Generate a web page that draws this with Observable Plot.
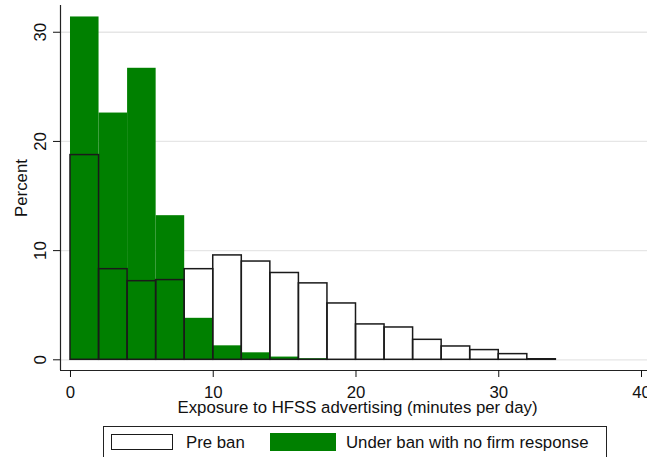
<!DOCTYPE html>
<html><head><meta charset="utf-8">
<script src="https://cdn.jsdelivr.net/npm/d3@7"></script>
<script src="https://cdn.jsdelivr.net/npm/@observablehq/plot@0.6"></script>
<style>
body{margin:0;background:#fff;font-family:"Liberation Sans",Arial,sans-serif;}
#wrap{position:relative;width:647px;height:457px;overflow:hidden;background:#fff;}
#legend{position:absolute;left:103px;top:426px;width:504px;height:34px;border:1px solid #222;box-sizing:border-box;font-size:16.8px;color:#111;}
#legend .sw{position:absolute;box-sizing:border-box;}
#legend .lab{position:absolute;white-space:nowrap;line-height:19px;}
</style>
</head><body>
<div id="wrap"></div>
<script>
// ---- data ----
const binStarts = [0,2,4,6,8,10,12,14,16,18,20,22,24,26,28,30,32];
const binWidth = 2;
const preBan   = [18.75, 8.3, 7.2, 7.3, 8.3, 9.56, 9.0, 7.95, 7.0, 5.16, 3.24, 2.96, 1.83, 1.22, 0.89, 0.52, 0.05];
const underBan = [31.4, 22.6, 26.7, 13.2, 3.8, 1.28, 0.64, 0.25, 0.1, 0, 0, 0, 0, 0, 0, 0, 0];
const seriesNames = ["Pre ban", "Under ban with no firm response"];
const xTicks = [0, 10, 20, 30, 40];
const yTicks = [0, 10, 20, 30];
const xTitle = "Exposure to HFSS advertising (minutes per day)";
const yTitle = "Percent";

const green = "#008000";
const xDomain = [-0.7, 40.42];
const yDomain = [-0.98, 32.45];
const fs = 16.8;

const bins = binStarts.map((s, i) => ({x1: s, x2: s + binWidth, pre: preBan[i], under: underBan[i]}));

const chart = Plot.plot({
  width: 647, height: 421,
  marginLeft: 60, marginRight: 0, marginTop: 5, marginBottom: 51,
  x: {domain: xDomain},
  y: {domain: yDomain},
  style: {fontFamily: '"Liberation Sans", Arial, sans-serif', fontSize: fs + "px", background: "white", color: "#111"},
  marks: [
    Plot.ruleY(yTicks, {stroke: "#e6e6e6", strokeWidth: 1.3}),
    Plot.rect(bins, {x1: "x1", x2: "x2", y1: d => 0, y2: "under", fill: green}),
    Plot.rect(bins, {x1: "x1", x2: "x2", y1: d => 0, y2: "pre", fill: "none", stroke: "#1a1a1a", strokeWidth: 1.5}),
    Plot.ruleX([xDomain[0]], {stroke: "#222", strokeWidth: 1.2}),
    Plot.ruleY([yDomain[0]], {stroke: "#222", strokeWidth: 1.2}),
    Plot.axisX({ticks: xTicks, tickSize: 7, tickPadding: 8.3, label: null, fontSize: fs}),
    Plot.axisY({ticks: yTicks, tickSize: 7, tickFormat: () => "", label: null}),
    Plot.text(yTicks, {y: d => d, text: d => String(d), frameAnchor: "left", rotate: -90, textAnchor: "middle", lineAnchor: "bottom", dx: -14.3, fontSize: fs}),
    Plot.text([yTitle], {text: d => d, frameAnchor: "left", rotate: -90, textAnchor: "middle", lineAnchor: "bottom", dx: -33.3, fontSize: fs}),
    Plot.text([xTitle], {text: d => d, frameAnchor: "bottom", lineAnchor: "bottom", dy: 42.9, dx: 3.5, fontSize: fs})
  ]
});

const wrap = document.getElementById("wrap");
wrap.appendChild(chart);

// legend
const legend = document.createElement("div");
legend.id = "legend";
legend.innerHTML =
  `<div class="sw" style="left:6.7px;top:7px;width:62.6px;height:16px;border:1.5px solid #1a1a1a;background:#fff"></div>` +
  `<div class="lab" style="left:82px;top:6.2px">${seriesNames[0]}</div>` +
  `<div class="sw" style="left:166.3px;top:6.3px;width:65.4px;height:17.4px;background:${green}"></div>` +
  `<div class="lab" style="left:242px;top:6.2px">${seriesNames[1]}</div>`;
wrap.appendChild(legend);
</script>
</body></html>
